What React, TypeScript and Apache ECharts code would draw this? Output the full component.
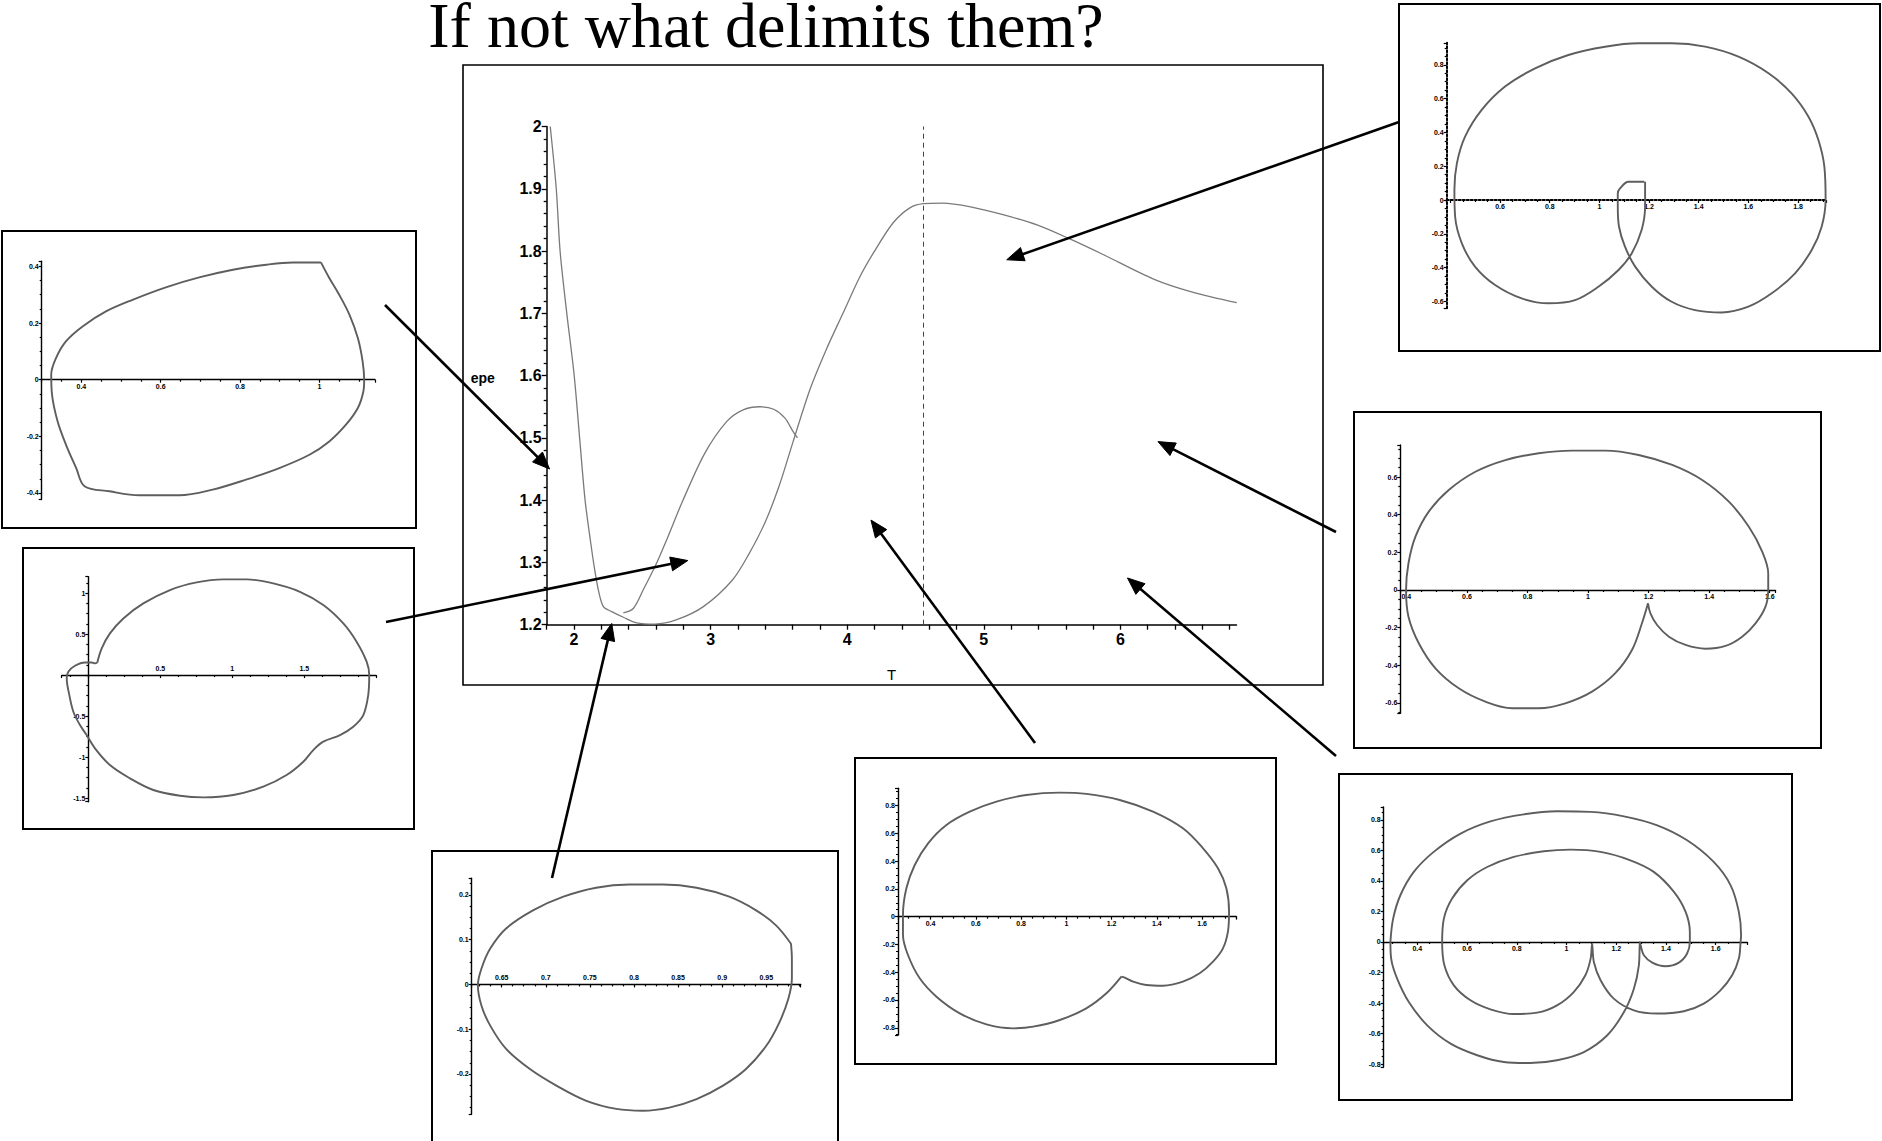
import React, { useEffect, useRef } from "react";
import * as echarts from "echarts";

// ---------- data ----------
const TITLE = "If not what delimits them?";

// epe(T) family, main branch
const mainCurve: number[][] = [
  [1.826, 2.0], [1.87, 1.9], [1.898, 1.8], [1.947, 1.7], [2.0, 1.603], [2.041, 1.5],
  [2.081, 1.4], [2.122, 1.332], [2.15, 1.29], [2.178, 1.256], [2.215, 1.229],
  [2.276, 1.221], [2.361, 1.212], [2.459, 1.203], [2.593, 1.201], [2.752, 1.208],
  [2.947, 1.229], [3.157, 1.271], [3.279, 1.313], [3.4, 1.365], [3.502, 1.423],
  [3.604, 1.494], [3.726, 1.577], [3.847, 1.642], [3.969, 1.7], [4.091, 1.758],
  [4.192, 1.797], [4.335, 1.845], [4.456, 1.869], [4.558, 1.876], [4.7, 1.877],
  [4.903, 1.871], [5.147, 1.858], [5.39, 1.842], [5.634, 1.819], [5.877, 1.794],
  [6.243, 1.755], [6.527, 1.734], [6.852, 1.717],
];

// epe(T) family, upper loop branch
const loopCurve: number[][] = [
  [2.361, 1.219], [2.434, 1.226], [2.507, 1.256], [2.605, 1.299], [2.678, 1.336],
  [2.792, 1.397], [2.954, 1.474], [3.117, 1.526], [3.238, 1.545], [3.36, 1.55],
  [3.462, 1.546], [3.543, 1.532], [3.604, 1.51], [3.636, 1.5],
];

const criticalT = 4.558;

// orbit shapes (x, y)
const orbitTopRight: number[][] = [
  [1.181, 0.108], [1.117, 0.108], [1.083, 0.069], [1.074, 0.039], [1.074, -0.039],
  [1.079, -0.158], [1.103, -0.276], [1.144, -0.394], [1.211, -0.513], [1.291, -0.602],
  [1.385, -0.651], [1.493, -0.665], [1.6, -0.631], [1.694, -0.552], [1.788, -0.434],
  [1.855, -0.296], [1.895, -0.158], [1.911, 0], [1.906, 0.197], [1.882, 0.355],
  [1.842, 0.493], [1.774, 0.631], [1.681, 0.75], [1.56, 0.848], [1.426, 0.907],
  [1.291, 0.927], [1.157, 0.927], [1.023, 0.907], [0.875, 0.858], [0.741, 0.779],
  [0.62, 0.671], [0.526, 0.533], [0.459, 0.375], [0.426, 0.217], [0.416, 0.059],
  [0.419, -0.099], [0.446, -0.256], [0.499, -0.394], [0.58, -0.503], [0.687, -0.582],
  [0.795, -0.611], [0.902, -0.592], [0.996, -0.513], [1.077, -0.414], [1.13, -0.316],
  [1.17, -0.178], [1.184, -0.039], [1.184, 0.108],
];

const orbitTopLeft: number[][] = [
  [1.004, 0.414], [0.933, 0.414], [0.866, 0.406], [0.782, 0.388], [0.697, 0.361],
  [0.613, 0.326], [0.529, 0.282], [0.462, 0.241], [0.403, 0.188], [0.361, 0.135],
  [0.336, 0.076], [0.324, 0.018], [0.326, -0.053], [0.34, -0.147], [0.361, -0.229],
  [0.387, -0.312], [0.408, -0.376], [0.471, -0.394], [0.546, -0.408], [0.647, -0.408],
  [0.731, -0.388], [0.815, -0.353], [0.899, -0.312], [0.975, -0.265], [1.025, -0.218],
  [1.067, -0.159], [1.097, -0.1], [1.111, -0.041], [1.113, 0], [1.109, 0.065],
  [1.097, 0.147], [1.076, 0.229], [1.05, 0.3], [1.025, 0.359], [1.004, 0.414],
];

const orbitMidLeft: number[][] = [
  [0.0625, 0.154], [0.093, 0.325], [0.15, 0.508], [0.243, 0.691], [0.382, 0.874],
  [0.567, 1.037], [0.752, 1.13], [0.9375, 1.167], [1.1, 1.167], [1.285, 1.118],
  [1.47, 1.016], [1.632, 0.854], [1.771, 0.63], [1.863, 0.407], [1.933, 0.163],
  [1.951, 0], [1.944, -0.244], [1.91, -0.488], [1.84, -0.63], [1.748, -0.732],
  [1.632, -0.813], [1.5625, -0.915], [1.493, -1.057], [1.377, -1.22], [1.215, -1.362],
  [1.007, -1.463], [0.799, -1.492], [0.637, -1.472], [0.451, -1.402], [0.289, -1.26],
  [0.15, -1.098], [0.046, -0.894], [-0.012, -0.732], [-0.058, -0.61], [-0.104, -0.447],
  [-0.132, -0.244], [-0.15, -0.041], [-0.139, 0.041], [-0.093, 0.114], [-0.023, 0.154],
  [0.023, 0.154], [0.046, 0.142], [0.0625, 0.154],
];

const orbitBottomLeft: number[][] = [
  [0.978, 0.091], [0.961, 0.132], [0.938, 0.166], [0.908, 0.196], [0.871, 0.216],
  [0.833, 0.223], [0.795, 0.223], [0.757, 0.216], [0.72, 0.196], [0.686, 0.166],
  [0.655, 0.125], [0.637, 0.08], [0.627, 0.035], [0.623, -0.002], [0.627, -0.047],
  [0.637, -0.092], [0.655, -0.144], [0.682, -0.189], [0.712, -0.226], [0.746, -0.26],
  [0.78, -0.278], [0.81, -0.282], [0.84, -0.275], [0.871, -0.256], [0.901, -0.226],
  [0.927, -0.189], [0.95, -0.137], [0.965, -0.084], [0.975, -0.032], [0.979, 0.013],
  [0.979, 0.057], [0.978, 0.091],
];

const orbitBottomCenter: number[][] = [
  [1.243, -0.432], [1.177, -0.552], [1.088, -0.66], [0.971, -0.744], [0.853, -0.792],
  [0.764, -0.804], [0.647, -0.776], [0.529, -0.696], [0.426, -0.576], [0.352, -0.444],
  [0.3, -0.276], [0.278, -0.132], [0.278, 0.012], [0.293, 0.204], [0.33, 0.372],
  [0.389, 0.528], [0.47, 0.66], [0.573, 0.756], [0.691, 0.828], [0.823, 0.876],
  [0.971, 0.893], [1.088, 0.884], [1.236, 0.84], [1.383, 0.756], [1.515, 0.636],
  [1.604, 0.492], [1.67, 0.348], [1.707, 0.204], [1.719, 0.036], [1.714, -0.108],
  [1.692, -0.228], [1.648, -0.324], [1.589, -0.408], [1.515, -0.468], [1.427, -0.497],
  [1.353, -0.492], [1.295, -0.468], [1.258, -0.439], [1.243, -0.432],
];

const orbitRightUpper: number[][] = [
  [1.198, -0.071], [1.178, -0.177], [1.145, -0.319], [1.09, -0.442], [1.013, -0.54],
  [0.925, -0.602], [0.837, -0.628], [0.749, -0.628], [0.661, -0.593], [0.573, -0.522],
  [0.496, -0.416], [0.441, -0.283], [0.407, -0.142], [0.399, 0], [0.407, 0.142],
  [0.43, 0.283], [0.474, 0.416], [0.54, 0.531], [0.628, 0.628], [0.727, 0.69],
  [0.837, 0.726], [0.947, 0.74], [1.057, 0.74], [1.167, 0.717], [1.278, 0.664],
  [1.377, 0.584], [1.465, 0.469], [1.531, 0.336], [1.575, 0.204], [1.595, 0.088],
  [1.595, 0], [1.586, -0.088], [1.553, -0.177], [1.509, -0.248], [1.454, -0.297],
  [1.388, -0.312], [1.322, -0.292], [1.267, -0.248], [1.228, -0.186], [1.206, -0.124],
  [1.198, -0.071],
];

const orbitRightLower: number[][] = [
  [0.292, 0], [0.303, 0.153], [0.332, 0.306], [0.386, 0.459], [0.466, 0.59],
  [0.574, 0.71], [0.694, 0.79], [0.828, 0.836], [0.962, 0.856], [1.097, 0.852],
  [1.231, 0.823], [1.365, 0.764], [1.485, 0.666], [1.592, 0.524], [1.66, 0.371],
  [1.693, 0.197], [1.702, 0.044], [1.7, 0],
  [1.693, -0.109], [1.666, -0.218], [1.619, -0.317], [1.552, -0.404], [1.472, -0.454],
  [1.365, -0.469], [1.271, -0.448], [1.19, -0.371], [1.137, -0.251], [1.11, -0.131],
  [1.103, -0.011],
  [1.097, -0.109], [1.076, -0.218], [1.029, -0.328], [0.962, -0.415], [0.882, -0.463],
  [0.788, -0.472], [0.694, -0.441], [0.614, -0.382], [0.547, -0.284], [0.509, -0.153],
  [0.5, 0],
  [0.507, 0.153], [0.54, 0.284], [0.601, 0.404], [0.681, 0.491], [0.788, 0.557],
  [0.909, 0.594], [1.016, 0.605], [1.137, 0.59], [1.257, 0.535], [1.351, 0.459],
  [1.432, 0.328], [1.479, 0.197], [1.496, 0.066], [1.496, 0],
  [1.485, -0.076], [1.452, -0.135], [1.398, -0.159], [1.345, -0.135], [1.311, -0.087],
  [1.298, -0.022], [1.295, 0],
  [1.291, -0.153], [1.271, -0.306], [1.231, -0.459], [1.164, -0.611], [1.07, -0.721],
  [0.962, -0.775], [0.855, -0.793], [0.748, -0.786], [0.641, -0.742], [0.534, -0.666],
  [0.44, -0.546], [0.366, -0.393], [0.319, -0.24], [0.295, -0.109], [0.292, 0],
];

// arrows: tip in (T, epe) of the main plot
const arrowTips: number[][] = [
  [5.168, 1.786], [1.821, 1.45], [2.833, 1.303], [2.276, 1.202],
  [4.174, 1.368], [6.275, 1.494], [6.052, 1.275],
];

// ---------- layout ----------
const arrowTails: number[][] = [
  [1399, 122], [385, 305], [386, 622], [552, 878], [1035, 743], [1336, 532], [1336, 756],
];

const MAIN_GRID = { left: 546.7, top: 126.5, width: 689.8, height: 498.2 };
const MAIN_BOX = [463, 65, 1323, 685];

type Inset = {
  box: number[];
  grid: { left: number; top: number; width: number; height: number };
  x: number[]; // min, max, step
  y: number[];
  curve: number[][];
  labelsAbove?: boolean;
  dotted?: boolean;
  hideYZero?: boolean;
  xLabelFrom?: number;
};

const insets: Inset[] = [
  {
    box: [1399, 4, 1880, 351],
    grid: { left: 1446.7, top: 42.8, width: 379.9, height: 265.4 },
    x: [0.385, 1.915, 0.2], y: [-0.64, 0.93, 0.2],
    curve: orbitTopRight, dotted: true, xLabelFrom: 0.5,
  },
  {
    box: [2, 231, 416, 528],
    grid: { left: 41.7, top: 261.3, width: 333.2, height: 238.2 },
    x: [0.3, 1.14, 0.2], y: [-0.423, 0.418, 0.2],
    curve: orbitTopLeft,
  },
  {
    box: [23, 548, 414, 829],
    grid: { left: 61.7, top: 576.7, width: 314.3, height: 225 },
    x: [-0.185, 1.998, 0.5], y: [-1.545, 1.2, 0.5],
    curve: orbitMidLeft, labelsAbove: true, hideYZero: true,
  },
  {
    box: [432, 851, 838, 1143],
    grid: { left: 471.7, top: 878.3, width: 329, height: 236 },
    x: [0.616, 0.989, 0.05], y: [-0.29, 0.237, 0.1],
    curve: orbitBottomLeft, labelsAbove: true,
  },
  {
    box: [855, 758, 1276, 1064],
    grid: { left: 898, top: 788.3, width: 338.3, height: 246.7 },
    x: [0.256, 1.751, 0.2], y: [-0.852, 0.924, 0.2],
    curve: orbitBottomCenter,
  },
  {
    box: [1354, 412, 1821, 748],
    grid: { left: 1400.3, top: 445, width: 375.2, height: 268.3 },
    x: [0.38, 1.619, 0.2], y: [-0.655, 0.77, 0.2],
    curve: orbitRightUpper,
  },
  {
    box: [1339, 774, 1792, 1100],
    grid: { left: 1383.7, top: 807, width: 363.6, height: 260 },
    x: [0.265, 1.727, 0.2], y: [-0.819, 0.884, 0.2],
    curve: orbitRightLower,
  },
];

const SANS = "'Liberation Sans', Arial, sans-serif";
const SERIF = "'Liberation Serif', 'Times New Roman', serif";

const fmtNum = (v: number) => String(parseFloat(v.toFixed(3)));

// Axes of a small orbit plot cross at the origin, Maple style:
// the x axis sits at y = 0 and the y axis at x = 0 when 0 is in range.
function insetAxes(s: Inset, gi: number) {
  const [x0, x1, xs] = s.x;
  const [y0, y1, ys] = s.y;
  const g = s.grid;
  const xAxisShift = y0 < 0 && y1 > 0 ? (g.height * (0 - y0)) / (y1 - y0) : 0;
  const yAxisShift = x0 < 0 && x1 > 0 ? (g.width * (0 - x0)) / (x1 - x0) : 0;
  const common = {
    axisLine: {
      onZero: false,
      lineStyle: { color: "#000", width: s.dotted ? 2 : 1.4, type: s.dotted ? "dotted" : "solid" },
    },
    axisTick: { length: 3, lineStyle: { color: "#000", width: 1.2 } },
    minorTick: { show: true, splitNumber: 4, length: 2, lineStyle: { color: "#000", width: 1.2 } },
    splitLine: { show: false },
  };
  const labelStyle = {
    fontSize: 7,
    fontWeight: "bold",
    fontFamily: SANS,
    color: "#000",
    margin: 3,
    showMinLabel: false,
    showMaxLabel: false,
  };
  const from = s.xLabelFrom ?? -Infinity;
  const xAxis = {
    type: "value",
    gridIndex: gi,
    position: "bottom",
    offset: -xAxisShift,
    min: x0,
    max: x1,
    minInterval: xs,
    maxInterval: xs,
    splitNumber: Math.round((x1 - x0) / xs),
    ...common,
    axisLabel: {
      ...labelStyle,
      inside: !!s.labelsAbove,
      formatter: (v: number) => (Math.abs(v) < 1e-9 || v < from ? "" : fmtNum(v)),
    },
  };
  const yAxis = {
    type: "value",
    gridIndex: gi,
    position: "left",
    offset: -yAxisShift,
    min: y0,
    max: y1,
    minInterval: ys,
    maxInterval: ys,
    splitNumber: Math.round((y1 - y0) / ys),
    ...common,
    axisLabel: {
      ...labelStyle,
      formatter: (v: number) => (Math.abs(v) < 1e-9 ? (s.hideYZero ? "" : "0") : fmtNum(v)),
    },
  };
  return { xAxis, yAxis };
}

function arrowElements(tail: number[], tip: number[], i: number) {
  const dx = tip[0] - tail[0];
  const dy = tip[1] - tail[1];
  const len = Math.hypot(dx, dy);
  const ux = dx / len;
  const uy = dy / len;
  const L = 17;
  const w = 7;
  const bx = tip[0] - ux * L;
  const by = tip[1] - uy * L;
  return [
    {
      type: "line",
      id: `arrow-line-${i}`,
      shape: { x1: tail[0], y1: tail[1], x2: bx + ux * 3, y2: by + uy * 3 },
      style: { stroke: "#000", lineWidth: 2.6 },
      z: 50,
    },
    {
      type: "polygon",
      id: `arrow-head-${i}`,
      shape: {
        points: [
          [tip[0], tip[1]],
          [bx - uy * w, by + ux * w],
          [bx + uy * w, by - ux * w],
        ],
      },
      style: { fill: "#000", stroke: "#000", lineWidth: 1 },
      z: 50,
    },
  ];
}

export default function App() {
  const ref = useRef<HTMLDivElement>(null);

  useEffect(() => {
    if (!ref.current) return;
    const chart = echarts.init(ref.current, undefined, { renderer: "svg" });

    const grids: any[] = [{ ...MAIN_GRID, containLabel: false }];
    const xAxes: any[] = [
      {
        type: "value",
        gridIndex: 0,
        min: 1.8,
        max: 6.85,
        interval: 0.2,
        name: "T",
        nameLocation: "middle",
        nameGap: 42,
        nameTextStyle: { fontSize: 15, color: "#000", fontFamily: SANS },
        axisLine: { onZero: false, lineStyle: { color: "#000", width: 1.5 } },
        axisTick: { length: 5, lineStyle: { color: "#000", width: 1.3 } },
        axisLabel: {
          fontSize: 16,
          fontWeight: "bold",
          fontFamily: SANS,
          color: "#000",
          margin: 7,
          showMaxLabel: false,
          formatter: (v: number) =>
            Math.abs(v - Math.round(v)) < 1e-6 ? String(Math.round(v)) : "",
        },
        splitLine: { show: false },
      },
    ];
    const yAxes: any[] = [
      {
        type: "value",
        gridIndex: 0,
        min: 1.2,
        max: 2,
        interval: 0.1,
        axisLine: { onZero: false, lineStyle: { color: "#000", width: 1.5 } },
        axisTick: { length: 5, lineStyle: { color: "#000", width: 1.3 } },
        minorTick: { show: true, splitNumber: 5, length: 3, lineStyle: { color: "#000", width: 1.3 } },
        axisLabel: {
          fontSize: 16,
          fontWeight: "bold",
          fontFamily: SANS,
          color: "#000",
          margin: 5,
          formatter: (v: number) => String(parseFloat(v.toFixed(1))),
        },
        splitLine: { show: false },
      },
    ];
    const series: any[] = [
      {
        type: "line",
        xAxisIndex: 0,
        yAxisIndex: 0,
        data: mainCurve,
        smooth: 0.3,
        symbol: "none",
        clip: false,
        lineStyle: { color: "#7a7a7a", width: 1.3 },
        markLine: {
          silent: true,
          symbol: "none",
          label: { show: false },
          lineStyle: { color: "#444", width: 1, type: [5, 4] },
          data: [{ xAxis: criticalT }],
        },
      },
      {
        type: "line",
        xAxisIndex: 0,
        yAxisIndex: 0,
        data: loopCurve,
        smooth: 0.3,
        symbol: "none",
        clip: false,
        lineStyle: { color: "#7a7a7a", width: 1.3 },
      },
    ];

    insets.forEach((s, k) => {
      const gi = k + 1;
      grids.push({ ...s.grid, containLabel: false });
      const { xAxis, yAxis } = insetAxes(s, gi);
      xAxes.push(xAxis);
      yAxes.push(yAxis);
      series.push({
        type: "line",
        xAxisIndex: gi,
        yAxisIndex: gi,
        data: s.curve,
        smooth: 0.35,
        symbol: "none",
        clip: false,
        lineStyle: { color: "#5e5e5e", width: 1.9 },
      });
    });

    const graphicEls: any[] = [
      {
        type: "text",
        id: "title",
        x: 766,
        y: 25,
        style: {
          text: TITLE,
          font: `64px ${SERIF}`,
          fill: "#000",
          textAlign: "center",
          textVerticalAlign: "middle",
        },
      },
      {
        type: "rect",
        id: "main-box",
        shape: {
          x: MAIN_BOX[0],
          y: MAIN_BOX[1],
          width: MAIN_BOX[2] - MAIN_BOX[0],
          height: MAIN_BOX[3] - MAIN_BOX[1],
        },
        style: { fill: "none", stroke: "#000", lineWidth: 1.6 },
      },
      {
        type: "text",
        id: "epe",
        x: MAIN_GRID.left - 64,
        y: 378,
        style: {
          text: "epe",
          font: `bold 14px ${SANS}`,
          fill: "#000",
          textAlign: "center",
          textVerticalAlign: "middle",
        },
      },
      ...insets.map((s, k) => ({
        type: "rect",
        id: `inset-box-${k}`,
        shape: {
          x: s.box[0],
          y: s.box[1],
          width: s.box[2] - s.box[0],
          height: s.box[3] - s.box[1],
        },
        style: { fill: "none", stroke: "#000", lineWidth: 2 },
      })),
    ];

    chart.setOption({
      animation: false,
      backgroundColor: "#fff",
      grid: grids,
      xAxis: xAxes,
      yAxis: yAxes,
      series,
      graphic: { elements: graphicEls },
    });

    const arrows: any[] = [];
    arrowTips.forEach((tipData, i) => {
      const tip = chart.convertToPixel({ gridIndex: 0 }, tipData) as number[];
      arrows.push(...arrowElements(arrowTails[i], tip, i));
    });
    chart.setOption({ graphic: { elements: arrows } });

    return () => chart.dispose();
  }, []);

  return (
    <div
      ref={ref}
      style={{ position: "absolute", left: 0, top: 0, width: 1882, height: 1141, background: "#fff" }}
    />
  );
}
